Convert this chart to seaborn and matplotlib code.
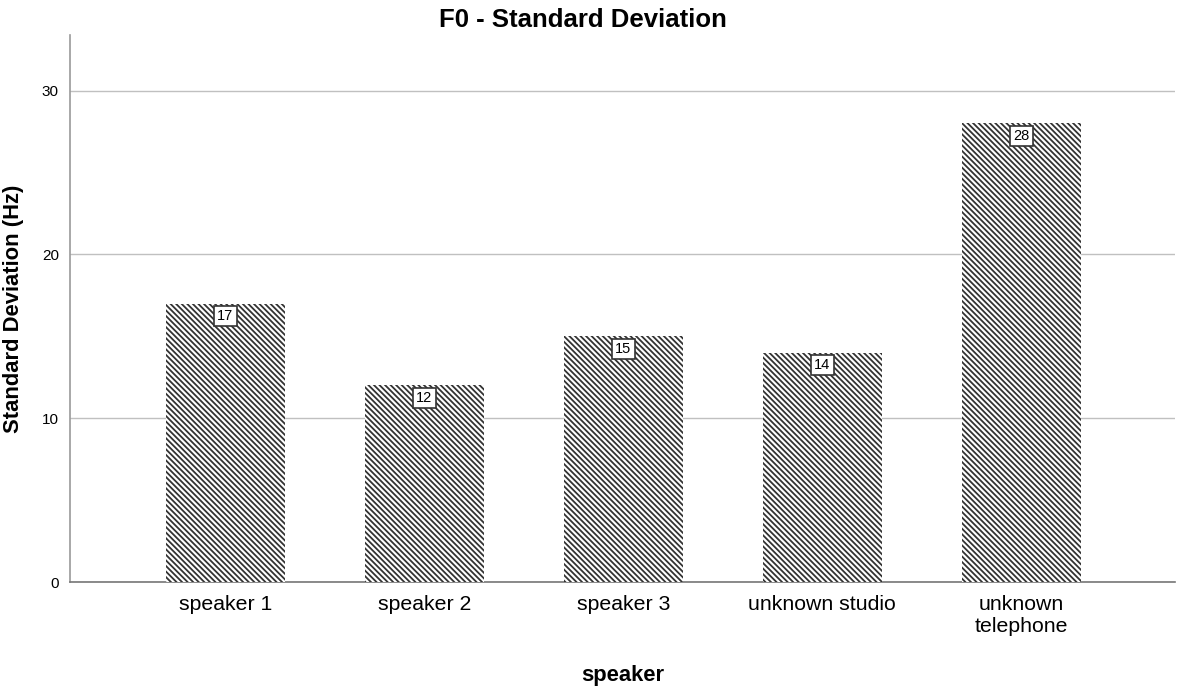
import matplotlib
matplotlib.use("Agg")
import matplotlib.pyplot as plt
import seaborn as sns
import pandas as pd

speakers = ["speaker 1", "speaker 2", "speaker 3", "unknown studio", "unknown\ntelephone"]
sd_values = [17, 12, 15, 14, 28]

sns.set_style("white")
plt.rcParams['font.family'] = ['Liberation Sans', 'DejaVu Sans']
plt.rcParams['hatch.linewidth'] = 1.3
plt.rcParams['hatch.color'] = '#333333'
plt.rcParams['text.color'] = 'black'

df = pd.DataFrame({"speaker": speakers, "sd": sd_values})

fig = plt.figure(figsize=(11.77, 6.86), dpi=100)
ax = fig.add_axes([0.0595, 0.1516, 0.9385, 0.7974])

sns.barplot(data=df, x="speaker", y="sd", ax=ax, color="white", width=0.6,
            edgecolor="none", linewidth=0, zorder=3)
for p in ax.patches:
    p.set_hatch("\\\\\\\\\\\\")
    p.set_edgecolor("#333333")
    p.set_linewidth(0)

ax.set_ylim(0, 33.4)
ax.set_xlim(-0.78, 4.77)
ax.set_yticks([0, 10, 20, 30])
ax.yaxis.grid(True, color="#c0c0c0", linewidth=1, zorder=0)
ax.set_axisbelow(True)
ax.tick_params(axis="y", labelsize=11, length=0, pad=8, labelcolor="black")
ax.tick_params(axis="x", labelsize=15.3, length=0, pad=9, labelcolor="black")

for s in ["top", "right"]:
    ax.spines[s].set_visible(False)
ax.spines["left"].set_color("#9a9a9a")
ax.spines["left"].set_linewidth(1.2)
ax.spines["bottom"].set_color("#777777")
ax.spines["bottom"].set_linewidth(1.2)

ax.set_xlabel("speaker", fontsize=15.8, fontweight="bold", labelpad=21, color="black")
ax.set_ylabel("Standard Deviation (Hz)", fontsize=15.8, fontweight="bold", labelpad=13, color="black")
fig.suptitle("F0 - Standard Deviation", x=0.495, y=0.988, va="top",
             fontsize=18.5, fontweight="bold", color="black")

for i, v in enumerate(sd_values):
    ax.annotate(str(v), (i, v), xytext=(0, -9), textcoords="offset points",
                ha="center", va="center", fontsize=10.5, zorder=5, color="black",
                bbox=dict(boxstyle="square,pad=0.22", fc="white", ec="#333333", lw=1.2))

fig.savefig("out.png", dpi=100)
